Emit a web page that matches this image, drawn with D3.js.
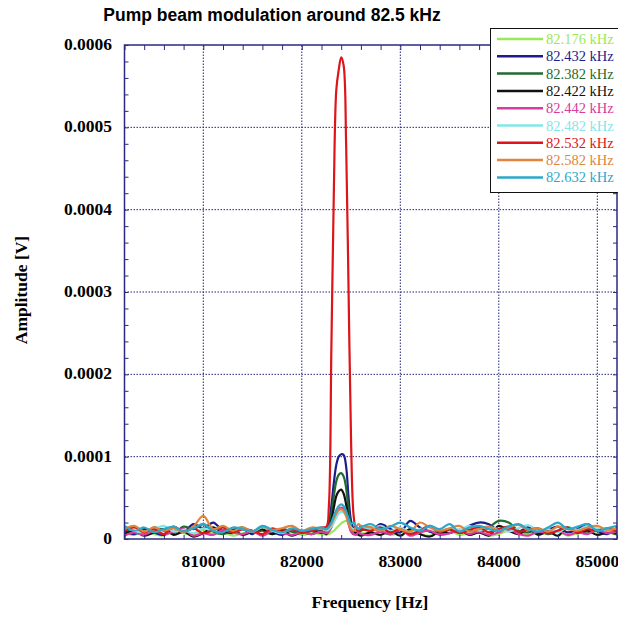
<!DOCTYPE html>
<html>
<head>
<meta charset="utf-8">
<script src="https://cdn.jsdelivr.net/npm/d3@7"></script>
<style>
  body { margin: 0; background: #fff; }
  svg { display: block; }
</style>
</head>
<body>
<svg></svg>
<script>
var width = 618,
    height = 624;

// frequency grid [Hz]: coarse in the noise, finer across the peak
var freqs = [80200, 80300, 80400, 80500, 80600, 80700, 80800, 80900, 81000, 81100,
             81200, 81300, 81400, 81500, 81600, 81700, 81800, 81900, 82000, 82100, 82200,
             82250, 82275, 82300, 82325, 82350, 82375, 82400, 82425, 82450, 82475,
             82500, 82525, 82550, 82575, 82600,
             82700, 82800, 82900, 83000, 83100, 83200, 83300, 83400, 83500, 83600,
             83700, 83800, 83900, 84000, 84100, 84200, 84300, 84400, 84500, 84600,
             84700, 84800, 84900, 85000, 85100, 85200];

var labels = ["82.176 kHz", "82.432 kHz", "82.382 kHz", "82.422 kHz", "82.442 kHz",
              "82.482 kHz", "82.532 kHz", "82.582 kHz", "82.632 kHz"];
var colors = ["#9be85a", "#1c1c8e", "#1f6b30", "#111111", "#d83c9c",
              "#84e6e8", "#dd1418", "#e0843e", "#2ea8c8"];

// amplitudes in microvolts, one row per modulation frequency
var amp176 = [8, 5, 10, 6, 4, 9, 7, 5, 11, 6, 8, 4, 7, 10, 5, 8, 6, 9, 5, 7, 6,
              5, 6, 8, 10, 13, 16, 19, 21, 22, 20, 14, 8, 6, 5, 7,
              6, 9, 5, 8, 11, 6, 4, 8, 10, 5, 7, 9, 4, 6, 10, 7, 5, 8, 6, 9, 4, 7, 10, 6, 8, 5];
var amp432 = [10, 6, 12, 8, 5, 14, 9, 18, 13, 20, 10, 7, 12, 6, 15, 9, 5, 11, 8, 12, 7,
              10, 18, 40, 68, 90, 100, 103, 102, 88, 50, 22, 12, 8, 12, 15,
              10, 18, 12, 8, 22, 14, 9, 6, 12, 8, 16, 20, 18, 10, 12, 9, 14, 7, 11, 15, 8, 12, 18, 10, 6, 14];
var amp382 = [12, 8, 6, 14, 10, 7, 15, 12, 18, 9, 6, 11, 14, 8, 10, 6, 12, 9, 7, 10, 8,
              8, 12, 30, 52, 70, 78, 80, 76, 62, 35, 15, 10, 12, 8, 10,
              14, 9, 6, 12, 8, 10, 15, 7, 12, 9, 11, 8, 14, 22, 20, 10, 8, 12, 6, 10, 14, 9, 7, 12, 10, 8];
var amp422 = [6, 10, 4, 8, 12, 5, 9, 3, 7, 14, 8, 11, 5, 9, 12, 6, 10, 4, 8, 6, 10,
              6, 10, 22, 38, 52, 58, 60, 55, 42, 24, 10, 6, 8, 5, 4,
              8, 5, 10, 4, 12, 6, 3, 9, 7, 11, 5, 8, 4, 16, 10, 6, 12, 5, 9, 4, 14, 7, 10, 5, 8, 6];
var amp442 = [4, 8, 5, 10, 6, 9, 12, 4, 7, 5, 11, 8, 6, 9, 4, 10, 7, 5, 8, 6, 9,
              7, 9, 14, 22, 30, 36, 38, 37, 30, 18, 9, 6, 5, 8, 6,
              5, 9, 6, 12, 4, 8, 10, 5, 7, 11, 6, 9, 5, 8, 12, 6, 4, 9, 7, 10, 5, 8, 6, 11, 7, 9];
var amp482 = [14, 10, 8, 12, 16, 9, 11, 7, 13, 10, 15, 8, 12, 9, 14, 10, 7, 12, 9, 11, 13,
              10, 12, 15, 20, 26, 31, 33, 32, 28, 20, 14, 12, 10, 12, 14,
              12, 16, 10, 14, 8, 12, 15, 9, 13, 11, 16, 10, 14, 12, 9, 13, 17, 10, 12, 8, 14, 11, 16, 13, 10, 12];
var amp532 = [10, 14, 8, 12, 6, 15, 9, 13, 7, 11, 14, 8, 12, 10, 6, 13, 9, 12, 8, 10, 14,
              15, 40, 230, 420, 545, 570, 585, 575, 480, 300, 120, 30, 12, 10, 12,
              10, 14, 8, 12, 6, 10, 16, 9, 12, 7, 11, 14, 8, 12, 15, 9, 11, 13, 7, 10, 14, 8, 12, 10, 13, 9];
var amp582 = [12, 16, 9, 14, 10, 13, 8, 15, 28, 12, 16, 10, 14, 9, 15, 11, 13, 16, 10, 14, 12,
              12, 14, 18, 25, 31, 35, 36, 34, 28, 18, 12, 10, 14, 18, 16,
              14, 10, 16, 12, 9, 20, 14, 10, 13, 16, 9, 12, 15, 10, 14, 17, 11, 13, 9, 15, 12, 10, 14, 16, 11, 13];
var amp632 = [16, 10, 14, 8, 12, 15, 9, 13, 18, 10, 8, 14, 12, 9, 16, 11, 8, 13, 10, 12, 14,
              12, 15, 20, 28, 35, 40, 42, 40, 34, 25, 18, 20, 15, 12, 14,
              18, 12, 15, 20, 14, 10, 16, 12, 18, 9, 14, 16, 12, 10, 15, 18, 12, 9, 14, 20, 12, 15, 18, 10, 13, 16];

var series = [amp176, amp432, amp382, amp422, amp442, amp482, amp532, amp582, amp632];

var xTicks = [81000, 82000, 83000, 84000, 85000];
var yTicks = [0, 100, 200, 300, 400, 500, 600];
var yTickLabels = ["0", "0.0001", "0.0002", "0.0003", "0.0004", "0.0005", "0.0006"];

var margin = {left: 124.5, right: 1, top: 45, bottom: 85};
var frame = "#2a2a82";

var svg = d3.select("svg")
    .attr("width", width)
    .attr("height", height);

var x = d3.scaleLinear()
    .domain([80200, 85200])
    .range([margin.left, width - margin.right]);
var y = d3.scaleLinear()
    .domain([0, 600])
    .range([height - margin.bottom, margin.top]);

svg.append("text")
    .attr("x", 272)
    .attr("y", 21)
    .attr("text-anchor", "middle")
    .attr("font-family", "Liberation Sans, Arial, sans-serif")
    .attr("font-weight", "bold")
    .attr("font-size", 17.5)
    .text("Pump beam modulation around 82.5 kHz");

// dotted grid
svg.append("g").selectAll("line")
    .data(xTicks)
    .enter().append("line")
    .attr("x1", function(d) { return x(d); })
    .attr("x2", function(d) { return x(d); })
    .attr("y1", y(0))
    .attr("y2", y(600))
    .attr("stroke", "#22227a")
    .attr("stroke-width", 1)
    .attr("stroke-dasharray", "1.5,1.5");
svg.append("g").selectAll("line")
    .data(yTicks.slice(1, -1))
    .enter().append("line")
    .attr("x1", x.range()[0])
    .attr("x2", x.range()[1])
    .attr("y1", function(d) { return y(d); })
    .attr("y2", function(d) { return y(d); })
    .attr("stroke", "#22227a")
    .attr("stroke-width", 1)
    .attr("stroke-dasharray", "1.5,1.5");

// curves
var line = d3.line()
    .x(function(d, i) { return x(freqs[i]); })
    .y(function(d) { return y(d); })
    .curve(d3.curveCatmullRom.alpha(0.5));

svg.append("clipPath").attr("id", "plot")
    .append("rect")
    .attr("x", x.range()[0])
    .attr("y", y(600))
    .attr("width", x.range()[1] - x.range()[0])
    .attr("height", y(0) - y(600));

svg.append("g")
    .attr("clip-path", "url(#plot)")
    .selectAll("path")
    .data(series)
    .enter().append("path")
    .attr("fill", "none")
    .attr("stroke", function(d, i) { return colors[i]; })
    .attr("stroke-width", 2.2)
    .attr("stroke-linejoin", "round")
    .attr("d", line);

// axes with inward ticks on all four sides
var xMinor = d3.range(80200, 85201, 200);
var yMinor = d3.range(0, 601, 20);

function noDomain(g) { g.select(".domain").remove(); g.selectAll("text").remove(); }

svg.append("g")
    .attr("transform", "translate(0," + y(0) + ")")
    .call(d3.axisBottom(x).tickValues(xMinor).tickSize(-4).tickFormat(""))
    .call(noDomain);
svg.append("g")
    .attr("transform", "translate(0," + y(600) + ")")
    .call(d3.axisTop(x).tickValues(xMinor).tickSize(-5).tickFormat(""))
    .call(noDomain);
svg.append("g")
    .attr("transform", "translate(" + x.range()[0] + ",0)")
    .call(d3.axisLeft(y).tickValues(yMinor).tickSize(-4).tickFormat(""))
    .call(noDomain);
svg.append("g")
    .attr("transform", "translate(" + x.range()[1] + ",0)")
    .call(d3.axisRight(y).tickValues(yMinor).tickSize(-4).tickFormat(""))
    .call(noDomain);
svg.selectAll(".tick line").attr("stroke", frame);

svg.append("rect")
    .attr("x", x.range()[0])
    .attr("y", y(600))
    .attr("width", x.range()[1] - x.range()[0])
    .attr("height", y(0) - y(600))
    .attr("fill", "none")
    .attr("stroke", frame)
    .attr("stroke-width", 1.5);

// tick labels
var labelFont = "Liberation Serif, Times New Roman, serif";
svg.append("g").selectAll("text")
    .data(xTicks)
    .enter().append("text")
    .attr("x", function(d) { return x(d); })
    .attr("y", 567)
    .attr("text-anchor", "middle")
    .attr("font-family", labelFont)
    .attr("font-weight", "bold")
    .attr("font-size", 17.5)
    .text(function(d) { return d; });
svg.append("g").selectAll("text")
    .data(yTicks)
    .enter().append("text")
    .attr("x", 112)
    .attr("y", function(d) { return y(d) + 5; })
    .attr("text-anchor", "end")
    .attr("font-family", labelFont)
    .attr("font-weight", "bold")
    .attr("font-size", 17.5)
    .text(function(d, i) { return yTickLabels[i]; });

svg.append("text")
    .attr("x", 370)
    .attr("y", 608)
    .attr("text-anchor", "middle")
    .attr("font-family", labelFont)
    .attr("font-weight", "bold")
    .attr("font-size", 17.5)
    .text("Frequency [Hz]");
svg.append("text")
    .attr("transform", "translate(27,290) rotate(-90)")
    .attr("text-anchor", "middle")
    .attr("font-family", labelFont)
    .attr("font-weight", "bold")
    .attr("font-size", 17.5)
    .text("Amplitude [V]");

// legend
var legend = svg.append("g");
legend.append("rect")
    .attr("x", 490.5)
    .attr("y", 28.5)
    .attr("width", 140)
    .attr("height", 164)
    .attr("fill", "#fff")
    .attr("stroke", "#111")
    .attr("stroke-width", 1);
var item = legend.selectAll(".item")
    .data(labels)
    .enter().append("g")
    .attr("transform", function(d, i) { return "translate(0," + (39 + i * 17.3) + ")"; });
item.append("line")
    .attr("x1", 497)
    .attr("x2", 543)
    .attr("stroke", function(d, i) { return colors[i]; })
    .attr("stroke-width", 2.5);
item.append("text")
    .attr("x", 546)
    .attr("y", 5)
    .attr("font-family", labelFont)
    .attr("font-size", 14.5)
    .attr("fill", function(d, i) { return colors[i]; })
    .text(function(d) { return d; });
</script>
</body>
</html>
